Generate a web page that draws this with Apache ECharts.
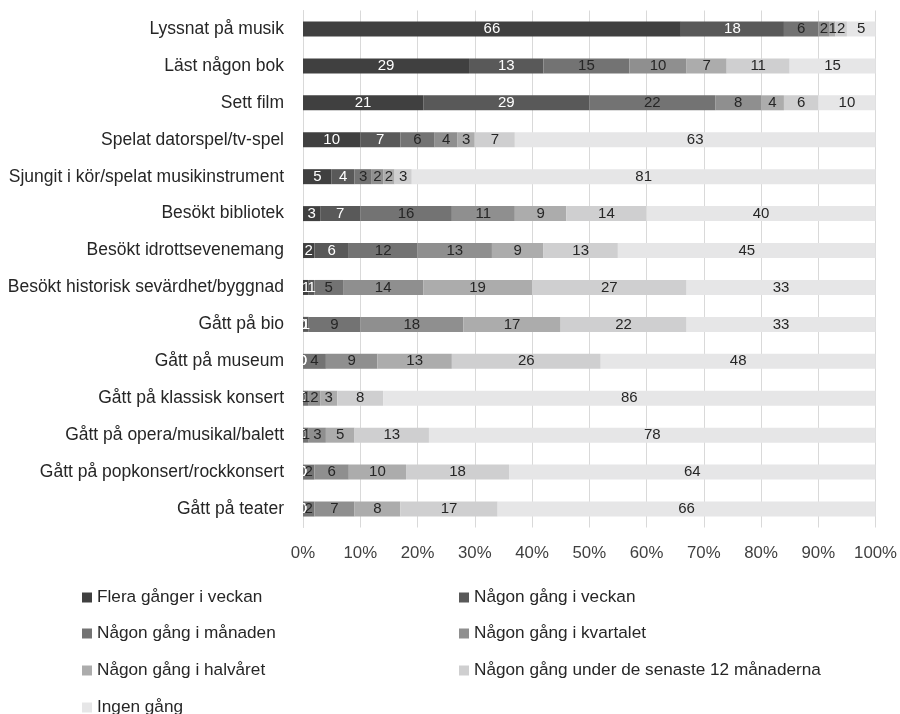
<!DOCTYPE html>
<html>
<head>
<meta charset="utf-8">
<script src="https://cdn.jsdelivr.net/npm/echarts@6/dist/echarts.min.js"></script>
<style>html,body{margin:0;padding:0;background:#fff}#c{width:900px;height:714px}</style>
</head>
<body>
<div id="c"></div>
<script>
const categories = [
  "Lyssnat på musik",
  "Läst någon bok",
  "Sett film",
  "Spelat datorspel/tv-spel",
  "Sjungit i kör/spelat musikinstrument",
  "Besökt bibliotek",
  "Besökt idrottsevenemang",
  "Besökt historisk sevärdhet/byggnad",
  "Gått på bio",
  "Gått på museum",
  "Gått på klassisk konsert",
  "Gått på opera/musikal/balett",
  "Gått på popkonsert/rockkonsert",
  "Gått på teater"
];
const seriesNames = [
  "Flera gånger i veckan",
  "Någon gång i veckan",
  "Någon gång i månaden",
  "Någon gång i kvartalet",
  "Någon gång i halvåret",
  "Någon gång under de senaste 12 månaderna",
  "Ingen gång"
];
const fleraGangerIVeckan = [66, 29, 21, 10, 5, 3, 2, 1, 0, 0, 0, 0, 0, 0];
const nagonGangIVeckan   = [18, 13, 29, 7, 4, 7, 6, 1, 1, 0, 0, 0, 0, 0];
const nagonGangIManaden  = [6, 15, 22, 6, 3, 16, 12, 5, 9, 4, 1, 1, 2, 2];
const nagonGangIKvartalet = [2, 10, 8, 4, 2, 11, 13, 14, 18, 9, 2, 3, 6, 7];
const nagonGangIHalvaret = [1, 7, 4, 3, 2, 9, 9, 19, 17, 13, 3, 5, 10, 8];
const nagonGang12Man     = [2, 11, 6, 7, 3, 14, 13, 27, 22, 26, 8, 13, 18, 17];
const ingenGang          = [5, 15, 10, 63, 81, 40, 45, 33, 33, 48, 86, 78, 64, 66];
const xTickLabels = ["0%", "10%", "20%", "30%", "40%", "50%", "60%", "70%", "80%", "90%", "100%"];

const seriesData = [fleraGangerIVeckan, nagonGangIVeckan, nagonGangIManaden, nagonGangIKvartalet, nagonGangIHalvaret, nagonGang12Man, ingenGang];
const colors = ["#404040", "#595959", "#737373", "#8f8f8f", "#acacac", "#cfcfd0", "#e6e6e7"];
const labelColors = ["#ffffff", "#ffffff", "#262626", "#262626", "#262626", "#262626", "#262626"];
const font = "Liberation Sans, Arial, sans-serif";

// legend placement: [left, top] per series
const legendPos = [[82, 589], [459, 589], [82, 625], [459, 625], [82, 662], [459, 662], [82, 699]];

const chart = echarts.init(document.getElementById('c'), null, {renderer: 'canvas'});
const option = {
  animation: false,
  color: colors,
  grid: {left: 303, right: 24, top: 10.5, bottom: 186.5, containLabel: false},
  xAxis: {
    type: 'value', min: 0, max: 100, interval: 10,
    axisLine: {show: false}, axisTick: {show: false},
    splitLine: {show: true, lineStyle: {color: '#d9d9d9', width: 1}},
    axisLabel: {
      margin: 17, fontSize: 16.8, color: '#404040', fontFamily: font,
      formatter: v => xTickLabels[Math.round(v / 10)]
    }
  },
  yAxis: {
    type: 'category', inverse: true, data: categories,
    axisLine: {show: true, lineStyle: {color: '#d9d9d9'}},
    axisTick: {show: false},
    axisLabel: {margin: 19, fontSize: 17.5, color: '#262626', fontFamily: font}
  },
  legend: seriesNames.map((n, i) => ({
    data: [n], orient: 'horizontal', left: legendPos[i][0], top: legendPos[i][1],
    itemWidth: 10, itemHeight: 10, itemGap: 0, padding: 0, icon: 'rect',
    textStyle: {fontSize: 17.2, color: '#262626', fontFamily: font}
  })),
  series: seriesData.map((d, i) => ({
    name: seriesNames[i],
    type: 'bar',
    stack: 'total',
    data: d,
    barWidth: 15,
    itemStyle: {color: colors[i]},
    label: {
      show: true, position: 'inside', color: labelColors[i],
      fontSize: 15, fontFamily: font, formatter: p => String(p.value)
    },
    labelLayout: {hideOverlap: false}
  }))
};
chart.setOption(option);
</script>
</body>
</html>
